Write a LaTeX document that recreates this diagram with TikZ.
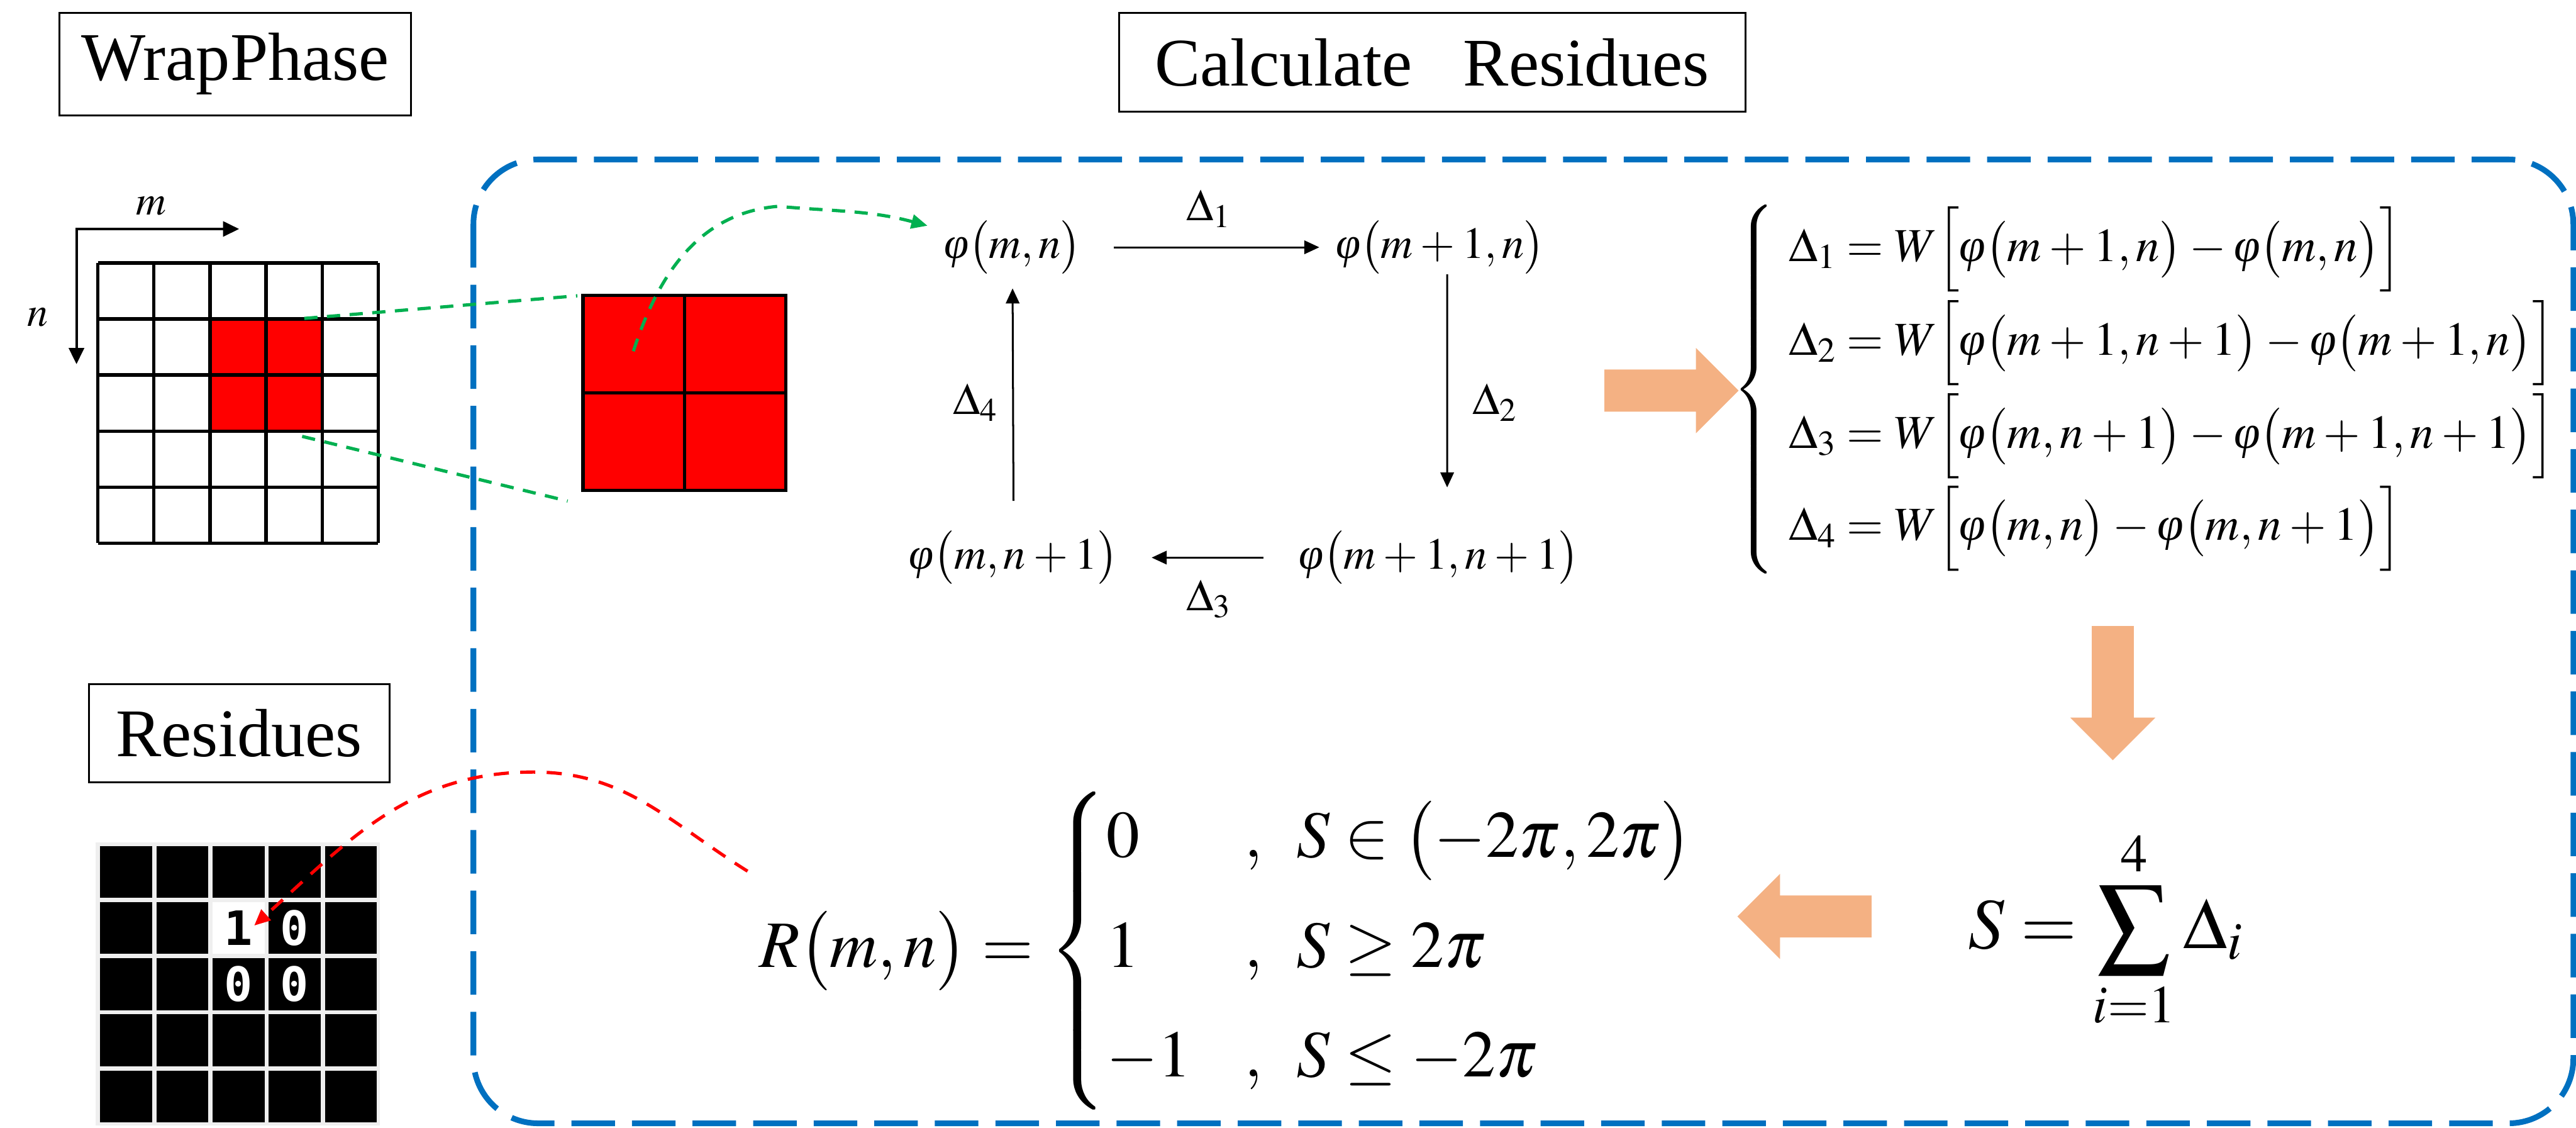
\documentclass[tikz,border=0pt]{standalone}
\usepackage{mathptmx}
\usepackage{fontspec}
\setmainfont{Liberation Serif}
\newfontfamily\digitfont{DejaVu Sans Mono}
\usetikzlibrary{arrows.meta,calc}
\definecolor{boxblue}{HTML}{0070C0}
\definecolor{linkgreen}{HTML}{00B050}
\definecolor{flowor}{HTML}{F4B183}
\definecolor{gapgray}{HTML}{EFEFEF}
\medmuskip=3mu plus 2mu minus 3mu
\newcommand\phit{\mbox{\itshape φ}}
\tikzset{titlebox/.style={draw,line width=1pt,font=\fontsize{36}{43}\selectfont},
 cyc/.style={-{Triangle[length=0.28cm,width=0.25cm]},line width=1pt},
 axis/.style={{Triangle[length=0.3cm,width=0.28cm]}-{Triangle[length=0.3cm,width=0.28cm]},line width=1.3pt},
 cell/.style={line width=1.7pt},
 link/.style={linkgreen,line width=1.7pt,dash pattern=on 7pt off 5pt},
 back/.style={red,line width=1.7pt,dash pattern=on 8pt off 6pt},
 phi/.style={inner sep=0pt,font=\fontsize{23.5}{28}\selectfont},
 eqn/.style={anchor=west,inner sep=0pt,font=\fontsize{25}{30}\selectfont},
 digit/.style={inner sep=0pt,font=\digitfont\bfseries\fontsize{25}{30}\selectfont},
 fatarrow/.pic={\fill[flowor] (0,0.39) -- (1.70,0.39) -- (1.70,0.79) -- (2.49,0)
   -- (1.70,-0.79) -- (1.70,-0.39) -- (0,-0.39) -- cycle;}}

\begin{document}
\begin{tikzpicture}
\useasboundingbox (0,0) rectangle (47.83,-20.93);

% titles
\node[titlebox,minimum width=6.53cm,minimum height=1.90cm] (twrap) at (4.37,-1.19) {WrapPhase};
\node[titlebox,minimum width=11.63cm,minimum height=1.83cm] (tcalc) at (26.59,-1.16) {Calculate\ \ \ Residues};
\node[titlebox,minimum width=5.58cm,minimum height=1.83cm] (tres) at (4.44,-13.61) {Residues};

% frame
\draw[boxblue,line width=3pt,dash pattern=on 23pt off 9pt,rounded corners=1.2cm] (8.79,-2.96) rectangle (47.78,-20.85);

% wrapped phase
\begin{scope}[shift={(1.82,-10.08)}]
\fill[red] (2.08,2.08) rectangle (4.16,4.16);
\draw[cell,scale=1.04] (0,0) grid (5,5);
\end{scope}
\coordinate (ax0) at (1.42,-4.25);
\coordinate (axm) at (4.44,-4.25);
\coordinate (axn) at (1.42,-6.76);
\draw[axis] (axm) -- (ax0) -- (axn);
\node[font=\fontsize{22}{26}\selectfont] (lm) at (2.81,-3.82) {$m$};
\node[font=\fontsize{22}{26}\selectfont] (ln) at (0.70,-5.89) {$n$};

% zoomed 2x2 block
\coordinate (gA) at (5.65,-5.91);
\coordinate (gB) at (5.61,-8.10);
\coordinate (gC) at (11.76,-6.52);
\draw[link] (gA) -- (10.72,-5.49);
\draw[link] (gB) -- (10.54,-9.30);
\node[draw,cell,fill=red,minimum width=3.77cm,minimum height=3.62cm,inner sep=0pt] (zoomsq) at (12.71,-7.29) {};
\draw[cell] (zoomsq.north) -- (zoomsq.south) (zoomsq.west) -- (zoomsq.east);

% loop of differences
\node[phi] (p00) at (18.80,-4.59) {$\phit\bigl(m,n\bigr)$};
\node[phi] (p10) at (26.74,-4.59) {$\phit\bigl(m+1,n\bigr)$};
\node[phi] (p11) at (26.72,-10.35) {$\phit\bigl(m+1,n+1\bigr)$};
\node[phi] (p01) at (18.82,-10.35) {$\phit\bigl(m,n+1\bigr)$};
\draw[cyc,shorten <=0.6cm,shorten >=0.3cm] (p00.east) -- (p10.west) node[phi,midway,above=0.35cm] (d1) {$\Delta_1$};
\draw[cyc,shorten >=0.8cm] ([xshift=1.3mm]p10.south) -- ([xshift=1.5mm]p11.north) node[phi,midway,right=0.45cm] (d2) {$\Delta_2$};
\draw[cyc,shorten <=0.65cm,shorten >=0.62cm] (p11.west) -- (p01.east) node[phi,midway,below=0.4cm] (d3) {$\Delta_3$};
\draw[cyc,shorten <=0.55cm,shorten >=0.26cm] (p01.north) -- (p00.south) node[phi,midway,left=0.27cm] (d4) {$\Delta_4$};
\draw[link,-{Triangle[length=0.3cm,width=0.26cm]}] (gC) to[out=72,in=185] (14.44,-3.83) to[out=-5,in=165] ([xshift=-3mm,yshift=4mm]p00.west);

% flow arrows
\pic at (29.79,-7.25) {fatarrow};
\pic[rotate=-90] at (39.23,-11.62) {fatarrow};
\pic[rotate=180] at (34.75,-17.01) {fatarrow};

% equations
\node[eqn,anchor=east] (brD) at (33.00,-7.23) {$\left\{\vrule height 3.2cm depth 3.2cm width 0pt\right.$};
\node[eqn] (eq1) at (33.21,-4.63) {$\Delta_1=W\Bigl[\phit\bigl(m+1,n\bigr)-\phit\bigl(m,n\bigr)\Bigr]$};
\node[eqn] (eq2) at (33.21,-6.37) {$\Delta_2=W\Bigl[\phit\bigl(m+1,n+1\bigr)-\phit\bigl(m+1,n\bigr)\Bigr]$};
\node[eqn] (eq3) at (33.21,-8.10) {$\Delta_3=W\Bigl[\phit\bigl(m,n+1\bigr)-\phit\bigl(m+1,n+1\bigr)\Bigr]$};
\node[eqn] (eq4) at (33.21,-9.81) {$\Delta_4=W\Bigl[\phit\bigl(m,n\bigr)-\phit\bigl(m,n+1\bigr)\Bigr]$};
\node[anchor=west,inner sep=0pt,font=\fontsize{38}{46}\selectfont] (ssum) at (36.54,-17.25) {$\displaystyle S=\sum_{i=1}^{4}\Delta_i$};
\node[anchor=west,inner sep=0pt,font=\fontsize{35}{42}\selectfont] (rdef) at (14.09,-17.65)
 {$R\bigl(m,n\bigr)=\left\{\begin{array}{@{}l@{\hspace{0.8em}}l@{}}
  0 & ,\hspace{0.4em}S\in\bigl(-2\pi,2\pi\bigr)\\[16pt]
  1 & ,\hspace{0.4em}S\ge 2\pi\\[16pt]
  -1 & ,\hspace{0.4em}S\le -2\pi
 \end{array}\right.$};

% residue map
\fill[gapgray] (1.78,-15.63) rectangle (7.05,-20.89);
\foreach \i in {0,...,4}
 \foreach \j in {0,...,4}
  \fill (1.86+1.043*\i,-15.70-1.043*\j) rectangle ++(0.965,-0.965);
\fill[white] (3.946,-16.743) rectangle ++(0.965,-0.965);
\node[digit] (one) at (4.43,-17.23) {1};
\node[digit,white] (z1) at (5.47,-17.23) {0};
\node[digit,white] (z2) at (4.43,-18.27) {0};
\node[digit,white] (z3) at (5.47,-18.27) {0};
\coordinate (rs) at (13.88,-16.17);
\draw[back,-{Triangle[length=0.3cm,width=0.26cm]}] (rs) to[out=148,in=0] (9.90,-14.33) to[out=180,in=42] ([shift={(0.29,0.05)}]one.center);
\end{tikzpicture}
\end{document}
